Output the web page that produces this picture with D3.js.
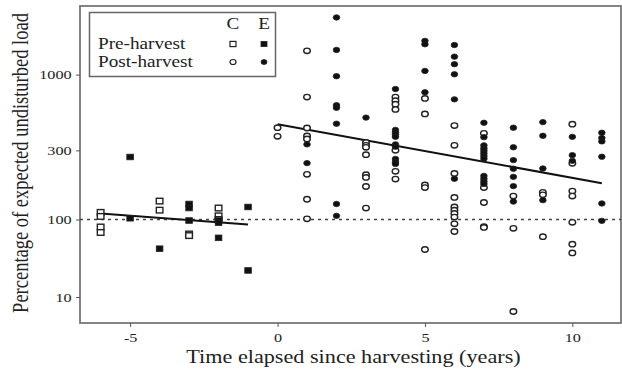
<!DOCTYPE html>
<html>
<head>
<meta charset="utf-8">
<script src="https://cdn.jsdelivr.net/npm/d3@7"></script>
<style>
  body { margin: 0; background: #fff; }
  svg { display: block; font-family: "Liberation Serif", "DejaVu Serif", serif; }
</style>
</head>
<body>
<svg id="chart" width="622" height="370"></svg>
<script>
// pre-harvest, control (open squares)
const preC = [[-6,112],[-6,105],[-6,80],[-6,68],[-4,134],[-4,116],[-3,65],[-3,62],[-2,120],[-2,106],[-2,100]];
// pre-harvest, experimental (filled squares)
const preE = [[-5,270],[-5,102],[-4,42],[-3,128],[-3,120],[-3,97],[-2,97],[-2,91],[-2,58],[-1,122],[-1,22]];
// post-harvest, control (open circles)
const postC = [
  [0,430],[0,375],
  [1,1460],[1,700],[1,428],[1,377],[1,360],[1,205],[1,138],[1,101],
  [3,340],[3,325],[3,315],[3,280],[3,204],[3,195],[3,169],[3,120],
  [4,700],[4,660],[4,625],[4,575],[4,300],[4,215],[4,190],
  [5,685],[5,535],[5,173],[5,166],[5,41],
  [6,445],[6,325],[6,208],[6,142],[6,122],[6,116],[6,110],[6,104],[6,88],[6,70],
  [7,393],[7,166],[7,131],[7,81],[7,79],
  [8,145],[8,77],[8,6.5],
  [9,154],[9,148],[9,60],
  [10,455],[10,244],[10,157],[10,145],[10,92],[10,48],[10,37]
];
// post-harvest, experimental (filled circles)
const postE = [
  [1,330],[1,245],
  [2,2480],[2,1480],[2,975],[2,615],[2,590],[2,458],[2,128],[2,106],
  [3,505],
  [4,795],[4,415],[4,398],[4,385],[4,372],[4,330],[4,318],[4,262],[4,250],[4,242],
  [5,1710],[5,1620],[5,1060],[5,755],
  [6,1600],[6,1330],[6,1180],[6,1005],[6,675],[6,191],
  [7,465],[7,370],[7,325],[7,310],[7,298],[7,286],[7,274],[7,263],[7,200],[7,191],[7,183],[7,176],
  [8,430],[8,315],[8,257],[8,224],[8,197],[8,170],[8,133],
  [9,470],[9,378],[9,225],[9,136],
  [10,372],[10,278],[10,254],
  [11,397],[11,365],[11,346],[11,271],[11,129],[11,96]
];
// fitted lines
const fitPre = [[-6,110],[-1,86]];
const fitPost = [[0,455],[11,178]];
const xTicks = [-5, 0, 5, 10];
const yTicks = [10, 100, 300, 1000];
const refLevel = 100;

const sx = 1.2; // horizontal stretch of the original figure
const plotLeft = 80, plotRight = 621, plotTop = 6, plotBottom = 323;

const svg = d3.select("#chart");

const x = d3.scaleLinear().domain([-6.7, 11.65]).range([plotLeft, plotRight]);
// axis is compressed below 100, so a two-piece log scale
const y = d3.scaleLog().domain([10, 100, 1000]).range([297, 219.5, 74.6]);

// frame
svg.append("rect")
  .attr("x", plotLeft).attr("y", plotTop)
  .attr("width", plotRight - plotLeft).attr("height", plotBottom - plotTop)
  .attr("fill", "none").attr("stroke", "#777").attr("stroke-width", 1.8);

// x axis (plain hyphen for negatives, as in the original)
const gx = svg.append("g")
  .attr("transform", `translate(0,${plotBottom})`)
  .call(d3.axisBottom(x).tickValues(xTicks).tickSize(4).tickPadding(5).tickFormat(d => String(d)));
gx.select(".domain").remove();
gx.selectAll("line").attr("stroke", "#555");
gx.selectAll("text")
  .attr("font-size", 13.5).attr("font-family", "Liberation Serif").attr("fill", "#222")
  .attr("transform", `scale(${sx},1)`);

// y axis
const gy = svg.append("g")
  .attr("transform", `translate(${plotLeft},0)`)
  .call(d3.axisLeft(y).tickValues(yTicks).tickSize(4).tickPadding(3).tickFormat(d => String(d)));
gy.select(".domain").remove();
gy.selectAll("line").attr("stroke", "#555");
gy.selectAll("text")
  .attr("font-size", 13.5).attr("font-family", "Liberation Serif").attr("fill", "#222")
  .attr("transform", `scale(${sx},1)`);

// axis titles
svg.append("text")
  .attr("transform", `translate(${(plotLeft + plotRight) / 2 + 3},363) scale(${sx},1)`)
  .attr("text-anchor", "middle").attr("font-size", 18.5).attr("fill", "#222")
  .text("Time elapsed since harvesting (years)");

svg.append("text")
  .attr("transform", `translate(28,163) scale(${sx},1) rotate(-90)`)
  .attr("text-anchor", "middle").attr("font-size", 18.5).attr("fill", "#222")
  .text("Percentage of expected undisturbed load");

// reference line at 100
svg.append("line")
  .attr("x1", plotLeft).attr("x2", plotRight)
  .attr("y1", y(refLevel)).attr("y2", y(refLevel))
  .attr("stroke", "#444").attr("stroke-width", 1.5).attr("stroke-dasharray", "3,4");

// fitted lines
const line = d3.line().x(d => x(d[0])).y(d => y(d[1]));
[fitPre, fitPost].forEach(f => {
  svg.append("path").attr("d", line(f))
    .attr("fill", "none").attr("stroke", "#111").attr("stroke-width", 2);
});

// markers
function squares(data, filled) {
  svg.append("g").selectAll("rect").data(data).join("rect")
    .attr("x", d => x(d[0]) - 3.3).attr("y", d => y(d[1]) - 2.8)
    .attr("width", 6.6).attr("height", 5.6)
    .attr("fill", filled ? "#111" : "#fff")
    .attr("stroke", "#222").attr("stroke-width", filled ? 0.8 : 1.4);
}
function circles(data, filled) {
  svg.append("g").selectAll("ellipse").data(data).join("ellipse")
    .attr("cx", d => x(d[0])).attr("cy", d => y(d[1]))
    .attr("rx", 3.3).attr("ry", 2.7)
    .attr("fill", filled ? "#111" : "#fff")
    .attr("stroke", "#222").attr("stroke-width", filled ? 0.8 : 1.4);
}
squares(preC, false);
squares(preE, true);
circles(postC, false);
circles(postE, true);

// legend
const lg = svg.append("g");
lg.append("rect")
  .attr("x", 89.5).attr("y", 12.5).attr("width", 186).attr("height", 64)
  .attr("fill", "#fff").attr("stroke", "#666").attr("stroke-width", 1.5);
const colC = 233, colE = 264;
[["C", colC], ["E", colE]].forEach(([t, cx]) => {
  lg.append("text")
    .attr("transform", `translate(${cx},29) scale(${sx},1)`)
    .attr("text-anchor", "middle").attr("font-size", 16).attr("fill", "#222").text(t);
});
const legendRows = [["Pre-harvest", 44, "sq"], ["Post-harvest", 62, "ci"]];
legendRows.forEach(([label, cy, shape]) => {
  lg.append("text")
    .attr("transform", `translate(98,${cy + 5}) scale(${sx},1)`)
    .attr("font-size", 16).attr("fill", "#222").text(label);
  [[colC, false], [colE, true]].forEach(([cx, filled]) => {
    if (shape === "sq") {
      lg.append("rect").attr("x", cx - 3).attr("y", cy - 2.6).attr("width", 6).attr("height", 5.2)
        .attr("fill", filled ? "#111" : "#fff").attr("stroke", "#222").attr("stroke-width", filled ? 0.8 : 1.2);
    } else {
      lg.append("ellipse").attr("cx", cx).attr("cy", cy).attr("rx", 3).attr("ry", 2.5)
        .attr("fill", filled ? "#111" : "#fff").attr("stroke", "#222").attr("stroke-width", filled ? 0.8 : 1.2);
    }
  });
});
</script>
</body>
</html>
